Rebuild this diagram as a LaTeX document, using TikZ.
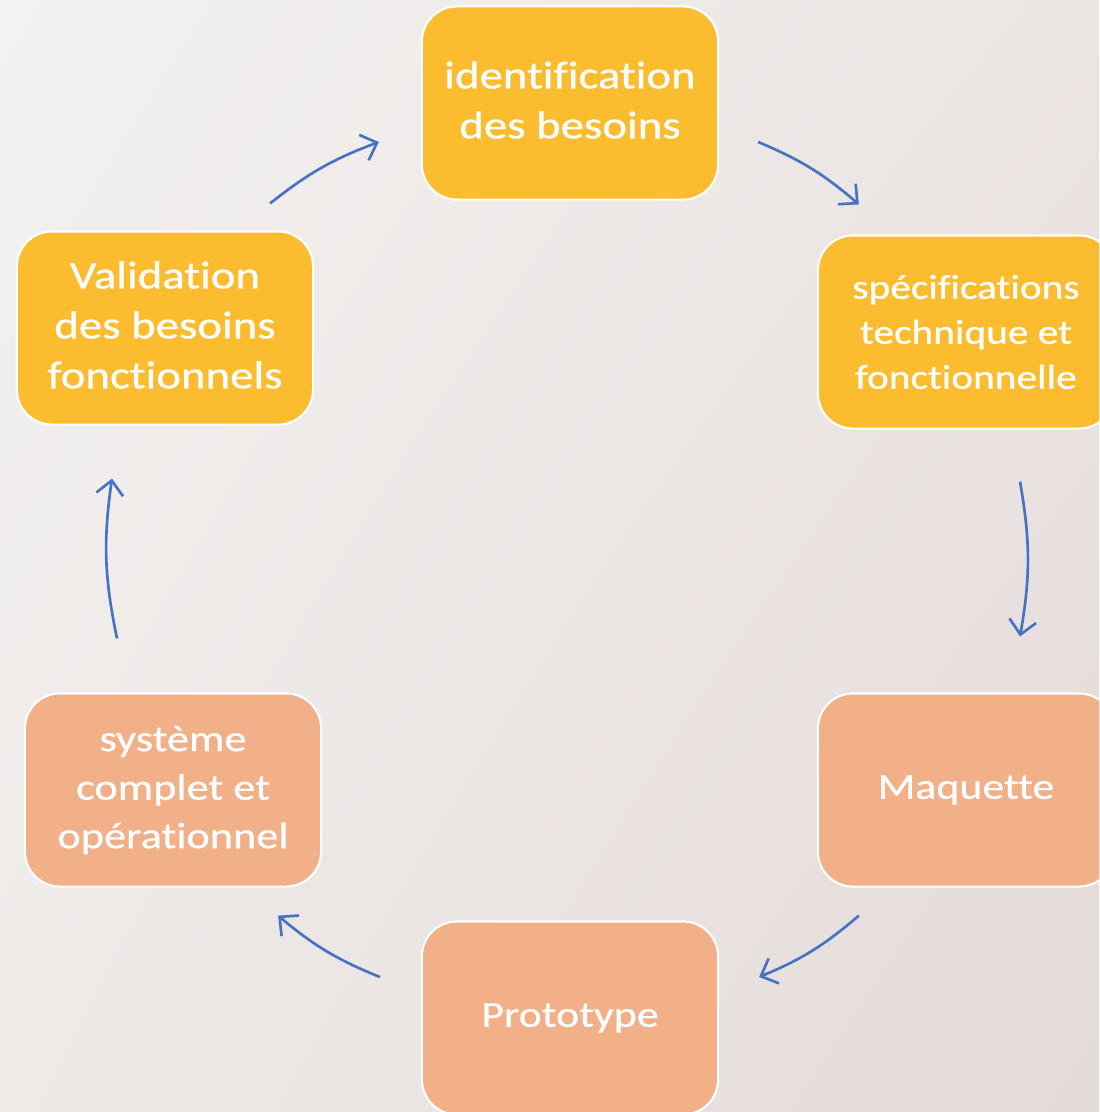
\documentclass[tikz,border=0pt]{standalone}
\usepackage{fontspec}
\setmainfont[FakeStretch=1.2, FakeBold=0.7, Ligatures={NoCommon}]{Carlito}
\usetikzlibrary{calc,arrows.meta,shadings}

\definecolor{bgtl}{HTML}{F3F2F1}
\definecolor{bgtr}{HTML}{EBE5E3}
\definecolor{bgbl}{HTML}{EEEAE8}
\definecolor{bgbr}{HTML}{E4DAD8}
\definecolor{stageyellow}{HTML}{FBBD2F}
\definecolor{stageorange}{HTML}{F1B087}
\definecolor{flowblue}{HTML}{4472C4}

\begin{document}
\begin{tikzpicture}[x=0.01cm, y=-0.01cm,
    stage/.style={draw=white, line width=0.6pt, rounded corners=0.35cm,
      minimum width=\boxwidth cm, minimum height=\boxheight cm,
      align=center, text=white, inner sep=0pt,
      font=\fontsize{11.1}{14.2}\selectfont},
    flow/.style={draw=flowblue, line width=0.75pt,
      -{Straight Barb[length=1.4mm, width=2.7mm]}}]

    % Drawing Parameters
    \pgfmathsetmacro{\boxwidth}{2.96}%
    \pgfmathsetmacro{\boxheight}{1.93}%
    \pgfmathsetmacro{\figurewidth}{1099}%
    \pgfmathsetmacro{\figureheight}{1112}%

    % Background
    \useasboundingbox (0,0) rectangle (\figurewidth,\figureheight);
    \clip (0,0) rectangle (\figurewidth,\figureheight);
    \shade[upper left=bgtl, upper right=bgtr, lower left=bgbl, lower right=bgbr]
      (0,0) rectangle (\figurewidth,\figureheight);

    % Stages
    \node[stage, fill=stageyellow] (ident) at (570,103) {identification\\des besoins\vphantom{p}};
    \node[stage, fill=stageyellow, font=\fontsize{9.8}{12.8}\selectfont] (spec) at (966,332) {spécifications\\technique et\\fonctionnelle};
    \node[stage, fill=stageorange, font=\fontsize{10.4}{14}\selectfont] (maq) at (966,790) {Maquette};
    \node[stage, fill=stageorange, font=\fontsize{10.4}{14}\selectfont] (proto) at (570,1018) {Prototype};
    \node[stage, fill=stageorange, font=\fontsize{10.5}{13.8}\selectfont] (sys) at (173,790) {système\\complet et\\opérationnel};
    \node[stage, fill=stageyellow] (valid) at (165,328) {Validation\\des besoins\\fonctionnels\vphantom{p}};

    % Cycle arrows
    \draw[flow] ($(valid.north east)+(-44,-27)$) to[bend left=9] ($(ident.west)+(-42,39)$);
    \draw[flow] ($(ident.east)+(39,39)$) to[bend left=9] ($(spec.north west)+(42,-30)$);
    \draw[flow] ($(spec.south)+(54,52)$) to[bend left=10] ($(maq.north)+(54,-56)$);
    \draw[flow] ($(maq.south west)+(42,28)$) to[bend left=9] ($(proto.east)+(40,-41)$);
    \draw[flow] ($(proto.west)+(-41,-41)$) to[bend left=9] ($(sys.south east)+(-44,28)$);
    \draw[flow] ($(sys.north)+(-56,-54)$) to[bend left=10] ($(valid.south)+(-53,53)$);
  \end{tikzpicture}
\end{document}
